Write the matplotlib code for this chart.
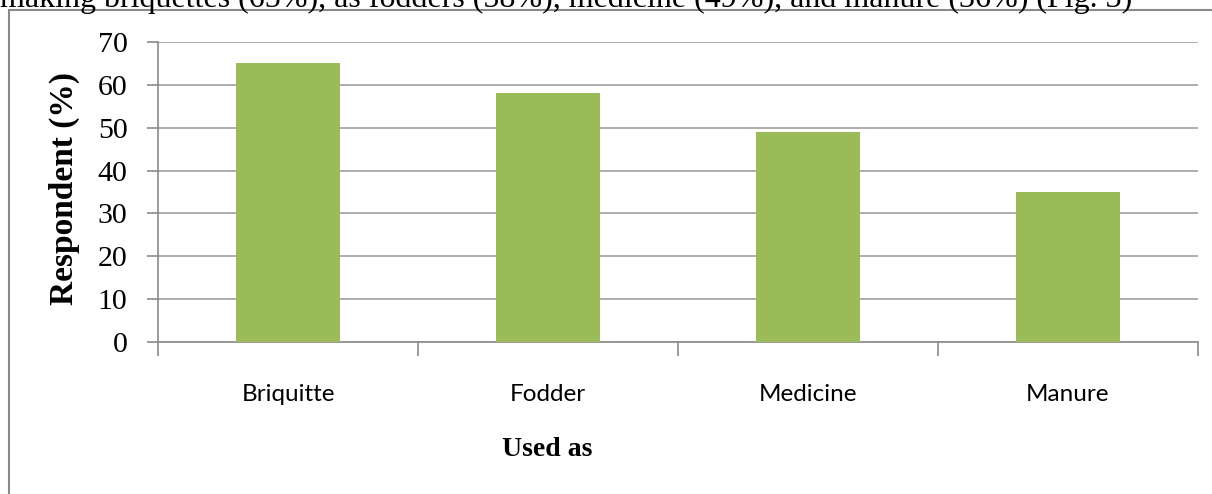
import matplotlib.pyplot as plt
from matplotlib.patches import Rectangle

# data
uses = ['Briquitte', 'Fodder', 'Medicine', 'Manure']
respondent = [65, 58, 49, 35]
yticks = [0, 10, 20, 30, 40, 50, 60, 70]

fig = plt.figure(figsize=(12.12, 4.94), dpi=100)

# clipped sentence from the page above the figure
fig.text(0.0, 1 - 7 / 494, 'making briquettes (65%), as fodders (58%), medicine (49%), '
         'and manure (36%) (Fig. 3)', family='Liberation Serif', fontsize=23,
         va='baseline', ha='left')

# chart frame
fig.patches.append(Rectangle((9 / 1212, -0.2), 1.2, 1 - 10 / 494 + 0.2,
                             transform=fig.transFigure, fill=False,
                             edgecolor='#8a8a8a', linewidth=1.5))

ax = fig.add_axes([158 / 1212, 1 - 342 / 494, (1198 - 158) / 1212, 300 / 494])

x = range(len(uses))
ax.bar(x, respondent, width=0.4, color='#9BBB59', zorder=3)

ax.set_xlim(-0.5, len(uses) - 0.5)
ax.set_ylim(0, 70)
ax.set_yticks(yticks)
ax.yaxis.grid(True, color='#a0a0a0', linewidth=1.2, zorder=0)

for s in ['top', 'right']:
    ax.spines[s].set_visible(False)
for s in ['left', 'bottom']:
    ax.spines[s].set_color('#8a8a8a')
    ax.spines[s].set_linewidth(1.2)

ax.set_xticks(list(x))
ax.set_xticklabels(uses, family='Lato', fontsize=17.5)
ax.set_xticks([i - 0.5 for i in range(len(uses) + 1)], minor=True)
ax.tick_params(axis='x', which='major', length=0, pad=30)
ax.tick_params(axis='x', which='minor', length=10, direction='out', color='#8a8a8a', width=1.2)
ax.tick_params(axis='y', length=8, direction='out', color='#8a8a8a', width=1.2, pad=14)
for t in ax.get_yticklabels():
    t.set_family('Liberation Serif')
    t.set_fontsize(21.5)

fig.text(64 / 1212, 1 - 188 / 494, 'Respondent (%)', family='Liberation Serif',
         fontweight='bold', fontsize=24, rotation=90, ha='center', va='center')
fig.text(547 / 1212, 1 - 449 / 494, 'Used as', family='Liberation Serif',
         fontweight='bold', fontsize=20, ha='center', va='center')

fig.savefig('out.png', dpi=100)
